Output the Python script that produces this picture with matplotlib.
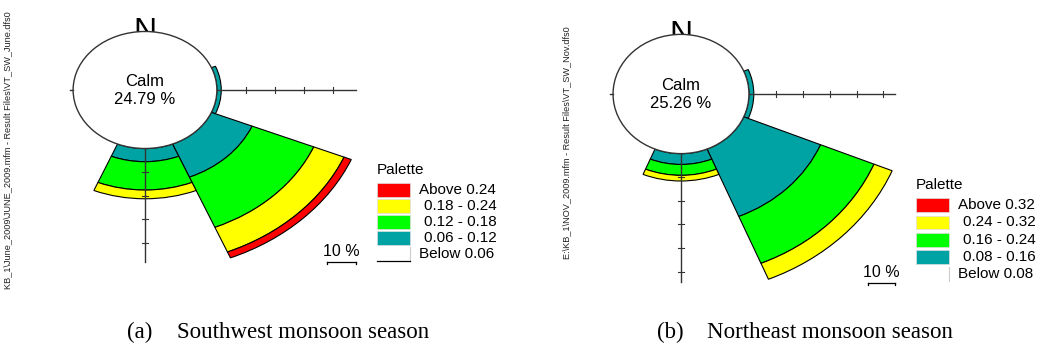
import matplotlib
matplotlib.use("Agg")
import matplotlib.pyplot as plt
from matplotlib.patches import Wedge, Ellipse, Rectangle
from matplotlib.lines import Line2D

# ---------------- data ----------------
bin_colors = ["#00A3A3", "#00FF00", "#FFFF00", "#FF0000"]   # low -> high speed bins
sector_bearings = [90, 135, 180]                          # E, SE, S (deg from north)
sector_width = 45

calm_sw = 24.79
sw_E = [1.5, 0.0, 0.0, 0.0]
sw_SE = [15.2, 23.0, 11.3, 2.7]
sw_S = [5.6, 12.0, 3.7, 0.0]
sw_labels = ["Above 0.24", "0.18 - 0.24", "0.12 - 0.18", "0.06 - 0.12", "Below 0.06"]

calm_ne = 25.26
ne_E = [1.8, 0.0, 0.0, 0.0]
ne_SE = [30.9, 21.5, 7.3, 0.0]
ne_S = [4.6, 4.6, 2.4, 0.0]
ne_labels = ["Above 0.32", "0.24 - 0.32", "0.16 - 0.24", "0.08 - 0.16", "Below 0.08"]

captions = [("(a)", "Southwest monsoon season"), ("(b)", "Northeast monsoon season")]
file_labels = ["KB_1\\June_2009\\JUNE_2009.mfm - Result Files\\VT_SW_June.dfs0",
               "E:\\KB_1\\NOV_2009.mfm - Result Files\\VT_SW_Nov.dfs0"]

# ---------------- figure ----------------
W, H = 1046, 350
fig = plt.figure(figsize=(W / 100, H / 100), dpi=100)
SANS = ["Liberation Sans", "DejaVu Sans"]
SERIF = ["Liberation Serif", "DejaVu Serif"]


def fx(x):
    return x / W


def fy(y):
    return 1 - y / H


def rose(px0, px1, cx, cy, sx, sy, calm, sectors_vals, axis_len, scale_c):
    # axes spanning pixel x [px0, px1], y [0, 300]; data units = percent
    ax = fig.add_axes([fx(px0), fy(300), (px1 - px0) / W, 300 / H])
    ax.set_xlim((px0 - cx) / sx, (px1 - cx) / sx)
    ax.set_ylim(-(300 - cy) / sy, cy / sy)
    ax.axis("off")
    # N label (below calm ellipse)
    ax.text(0, calm * 0.86, "N", ha="center", va="baseline", fontsize=23,
            family=SANS, zorder=1)
    # stacked sectors
    for b, vals in zip(sector_bearings, sectors_vals):
        t1 = 90 - b - sector_width / 2
        t2 = 90 - b + sector_width / 2
        r = calm
        for v, c in zip(vals, bin_colors):
            if v <= 0:
                continue
            ax.add_patch(Wedge((0, 0), r + v, t1, t2, width=v, facecolor=c,
                               edgecolor="black", lw=0.8, zorder=2))
            r += v
    # calm ellipse
    ax.add_patch(Ellipse((0, 0), 2 * calm, 2 * calm, facecolor="white",
                         edgecolor="#333333", lw=1.0, zorder=3))
    ax.text(0, 3.5, "Calm", ha="center", va="center", fontsize=12,
            family=SANS, zorder=4)
    ax.text(0, -4.2, f"{calm:.2f} %", ha="center", va="center", fontsize=12,
            family=SANS, zorder=4)
    # axes lines
    ax.plot([calm, axis_len], [0, 0], color="#333333", lw=1.0, zorder=4)
    ax.plot([0, 0], [-calm, -axis_len], color="#333333", lw=1.0, zorder=4)
    ax.plot([-calm - 1.2, -calm], [0, 0], color="#333333", lw=1.0, zorder=4)
    k = calm + 10
    tick_h = 1.2
    while k < axis_len:
        ax.plot([k, k], [-tick_h, tick_h], color="#333333", lw=0.8, zorder=4)
        ax.plot([-tick_h * sy / sx, tick_h * sy / sx], [-k, -k],
                color="#333333", lw=0.8, zorder=4)
        k += 10
    # scale bar (10 %)
    bx, by = scale_c
    ax.plot([bx - 5, bx + 5], [by, by], color="black", lw=0.9)
    ax.plot([bx - 5, bx - 5], [by, by - 1.0], color="black", lw=0.9)
    ax.plot([bx + 5, bx + 5], [by, by - 1.0], color="black", lw=0.9)
    ax.text(bx, by + 1.2, "10 %", ha="center", va="bottom", fontsize=11.5,
            family=SANS)
    return ax


rose(0, 520, 145, 90, 2.90, 2.36, calm_sw, [sw_E, sw_SE, sw_S], 72.8,
     ((341 - 145) / 2.90, -(262 - 90) / 2.36))
rose(560, 1046, 681, 94, 2.69, 2.36, calm_ne, [ne_E, ne_SE, ne_S], 79.6,
     ((881.5 - 681) / 2.69, -(282.7 - 94) / 2.36))


def legend(x0, title_y, row_tops, ph, pw, lab_x, labels, pitch, underline):
    fig.text(fx(x0), fy(title_y), "Palette", ha="left", va="center",
             fontsize=11, family=SANS)
    cols = bin_colors[::-1]
    for i, c in enumerate(cols):
        top = row_tops[i]
        fig.add_artist(Rectangle((fx(x0), fy(top + ph)), pw / W, ph / H,
                                 facecolor=c, edgecolor="#DDDDDD", lw=0.5,
                                 transform=fig.transFigure))
    centers = [t + ph / 2 for t in row_tops]
    centers.append(centers[-1] + pitch)
    for i, lab in enumerate(labels):
        off = 0 if i in (0, len(labels) - 1) else 5
        fig.text(fx(lab_x + off), fy(centers[i]), lab, ha="left",
                 va="center", fontsize=11, family=SANS)
    yb = centers[-1] + ph / 2
    fig.add_artist(Line2D([fx(x0 + pw), fx(x0 + pw)], [fy(yb - ph), fy(yb)],
                          color="#CCCCCC", lw=0.8, transform=fig.transFigure))
    if underline:
        fig.add_artist(Line2D([fx(x0), fx(x0 + pw)], [fy(yb), fy(yb)],
                              color="black", lw=0.9, transform=fig.transFigure))


legend(377, 170, [183.3, 199.2, 215.0, 231.0], 13.5, 33, 419, sw_labels, 16.3, True)
legend(916, 185, [198.3, 215.7, 233.0, 250.0], 13.5, 33, 958, ne_labels, 17.3, False)

# side file labels
fig.text(fx(8), fy(150), file_labels[0], rotation=90, ha="center", va="center",
         fontsize=6.6, family=SANS, color="#222222")
fig.text(fx(567), fy(143), file_labels[1], rotation=90, ha="center", va="center",
         fontsize=6.6, family=SANS, color="#222222")

# captions
for (tag, txt), xt, xs in zip(captions, [127, 657], [177, 707]):
    fig.text(fx(xt), fy(332), tag, ha="left", va="center", fontsize=16.5,
             family=SERIF)
    fig.text(fx(xs), fy(332), txt, ha="left", va="center", fontsize=16.5,
             family=SERIF)

fig.savefig("out.png", dpi=100, facecolor="white")
